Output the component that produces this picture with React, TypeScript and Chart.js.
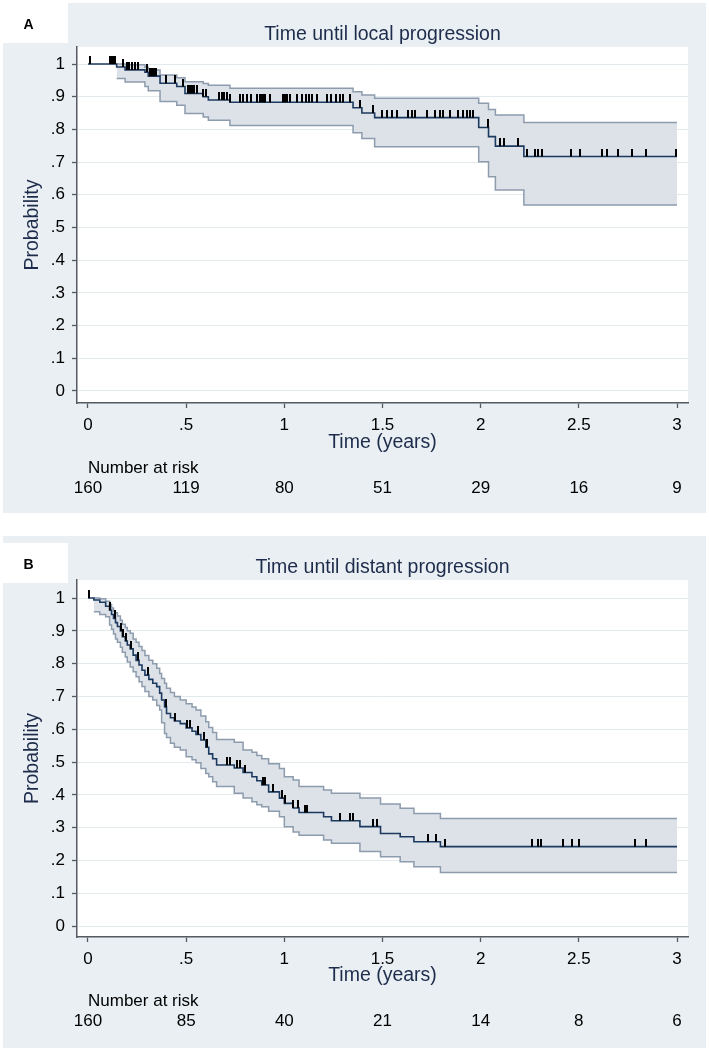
import React, { useEffect, useRef } from "react";
import { Chart, registerables } from "chart.js";

Chart.register(...registerables);

// ---------- shared axis data ----------
const xTickValues = [0, 0.5, 1, 1.5, 2, 2.5, 3];
const xTickLabels = ["0", ".5", "1", "1.5", "2", "2.5", "3"];
const yTickValues = [0, 0.1, 0.2, 0.3, 0.4, 0.5, 0.6, 0.7, 0.8, 0.9, 1];
const yTickLabels = ["0", ".1", ".2", ".3", ".4", ".5", ".6", ".7", ".8", ".9", "1"];

// ---------- panel A: local progression ----------
const aTitle = "Time until local progression";
const aTimes = [0, 0.146, 0.189, 0.29, 0.307, 0.367, 0.452, 0.494, 0.587, 0.613, 0.723, 1.35, 1.395, 1.46, 1.99, 2.04, 2.075, 2.22, 3.0];
const aSurv = [1, 0.991, 0.982, 0.975, 0.963, 0.941, 0.931, 0.91, 0.9, 0.89, 0.883, 0.866, 0.85, 0.836, 0.806, 0.778, 0.749, 0.717, 0.717];
const aBandTimes = [0.146, 0.189, 0.29, 0.307, 0.367, 0.452, 0.494, 0.587, 0.613, 0.723, 1.35, 1.395, 1.46, 1.99, 2.04, 2.075, 2.22, 3.0];
const aUpper = [1.0, 0.998, 0.99, 0.982, 0.966, 0.958, 0.946, 0.94, 0.935, 0.926, 0.915, 0.905, 0.895, 0.88, 0.861, 0.844, 0.821, 0.821];
const aLower = [0.956, 0.945, 0.931, 0.918, 0.885, 0.874, 0.849, 0.838, 0.828, 0.812, 0.79, 0.772, 0.747, 0.701, 0.655, 0.615, 0.569, 0.569];
const aCensored = [
  0.01, 0.11, 0.12, 0.13, 0.14, 0.177, 0.197, 0.21, 0.225, 0.24, 0.255, 0.3, 0.316, 0.325, 0.335, 0.345,
  0.397, 0.443, 0.482, 0.511, 0.52, 0.53, 0.54, 0.554, 0.587, 0.6, 0.669, 0.68, 0.695, 0.71, 0.723,
  0.774, 0.79, 0.81, 0.83, 0.859, 0.876, 0.885, 0.895, 0.902, 0.927, 0.995, 1.005, 1.015, 1.03,
  1.063, 1.09, 1.11, 1.125, 1.14, 1.165, 1.216, 1.24, 1.265, 1.285, 1.3, 1.335, 1.386, 1.453,
  1.496, 1.522, 1.547, 1.572, 1.632, 1.649, 1.666, 1.725, 1.768, 1.793, 1.81, 1.844, 1.886, 1.912,
  1.929, 1.946, 1.963, 2.035, 2.1, 2.12, 2.19, 2.235, 2.277, 2.294, 2.311, 2.46, 2.506, 2.617, 2.642,
  2.7, 2.77, 2.843, 2.995,
];
const aAtRisk = [160, 119, 80, 51, 29, 16, 9];

// ---------- panel B: distant progression ----------
const bTitle = "Time until distant progression";
const bTimes = [0, 0.03, 0.06, 0.09, 0.11, 0.12, 0.13, 0.14, 0.15, 0.165, 0.175, 0.19, 0.2, 0.215, 0.23, 0.245, 0.26, 0.275, 0.29, 0.31, 0.33, 0.35, 0.365, 0.375, 0.39, 0.4, 0.42, 0.44, 0.47, 0.5, 0.53, 0.55, 0.575, 0.6, 0.615, 0.635, 0.655, 0.745, 0.79, 0.835, 0.86, 0.885, 0.92, 0.975, 1.0, 1.045, 1.075, 1.2, 1.24, 1.385, 1.49, 1.59, 1.66, 1.795, 3.0];
const bSurv = [1, 0.994, 0.987, 0.975, 0.963, 0.95, 0.938, 0.925, 0.913, 0.9, 0.882, 0.869, 0.857, 0.845, 0.826, 0.81, 0.796, 0.78, 0.765, 0.752, 0.74, 0.73, 0.71, 0.689, 0.668, 0.648, 0.635, 0.625, 0.617, 0.604, 0.594, 0.584, 0.567, 0.545, 0.525, 0.51, 0.491, 0.482, 0.468, 0.455, 0.443, 0.43, 0.409, 0.39, 0.374, 0.36, 0.346, 0.333, 0.321, 0.303, 0.282, 0.272, 0.257, 0.242, 0.242];
const bBandTimes = [0.03, 0.06, 0.09, 0.11, 0.12, 0.13, 0.14, 0.15, 0.165, 0.175, 0.19, 0.2, 0.215, 0.23, 0.245, 0.26, 0.275, 0.29, 0.31, 0.33, 0.35, 0.365, 0.375, 0.39, 0.4, 0.42, 0.44, 0.47, 0.5, 0.53, 0.55, 0.575, 0.6, 0.615, 0.635, 0.655, 0.745, 0.79, 0.835, 0.86, 0.885, 0.92, 0.975, 1.0, 1.045, 1.075, 1.2, 1.24, 1.385, 1.49, 1.59, 1.66, 1.795, 3.0];
const bUpper = [1.0, 0.998, 0.99, 0.98, 0.97, 0.96, 0.955, 0.945, 0.932, 0.92, 0.91, 0.9, 0.893, 0.875, 0.865, 0.852, 0.84, 0.825, 0.81, 0.8, 0.786, 0.77, 0.755, 0.74, 0.725, 0.712, 0.7, 0.689, 0.678, 0.668, 0.659, 0.64, 0.623, 0.605, 0.59, 0.569, 0.56, 0.537, 0.53, 0.52, 0.51, 0.495, 0.48, 0.455, 0.445, 0.425, 0.415, 0.405, 0.39, 0.372, 0.359, 0.343, 0.328, 0.328];
const bLower = [0.958, 0.95, 0.943, 0.918, 0.905, 0.89, 0.875, 0.865, 0.85, 0.835, 0.82, 0.805, 0.79, 0.775, 0.76, 0.745, 0.73, 0.715, 0.7, 0.689, 0.672, 0.659, 0.62, 0.587, 0.575, 0.557, 0.545, 0.537, 0.516, 0.507, 0.498, 0.48, 0.465, 0.455, 0.44, 0.425, 0.405, 0.39, 0.379, 0.37, 0.364, 0.35, 0.333, 0.303, 0.287, 0.277, 0.262, 0.252, 0.227, 0.211, 0.196, 0.181, 0.163, 0.163];
const bCensored = [
  0.005, 0.11, 0.138, 0.167, 0.18, 0.195, 0.217, 0.256, 0.304, 0.396, 0.443, 0.503, 0.52, 0.562, 0.59,
  0.605, 0.706, 0.723, 0.757, 0.774, 0.8, 0.893, 0.902, 0.941, 0.987, 1.004, 1.046, 1.071, 1.105, 1.117,
  1.284, 1.335, 1.348, 1.453, 1.471, 1.73, 1.773, 1.819, 2.26, 2.294, 2.306, 2.421, 2.464, 2.503, 2.787, 2.843,
];
const bAtRisk = [160, 85, 40, 21, 14, 8, 6];

// ---------- styling ----------
const FONT = "'Liberation Sans', Arial, Helvetica, sans-serif";
const PANEL_BG = "#e9eff2";
const NAVY_TEXT = "#1e2c4c";
const KM_LINE = "#1c3a5f";
const BAND_LINE = "#8d9cad";
const BAND_FILL = "#dde2e9";
const GRID = "#e3eaee";
const AXIS = "#555a60";

type Panel = {
  letter: string;
  title: string;
  times: number[];
  surv: number[];
  bandTimes: number[];
  upper: number[];
  lower: number[];
  censored: number[];
  atRisk: number[];
  top: number;
  height: number;
  plotBottom: number;
  boxTop: number;
  yMin: number;
  yMax: number;
};

const panels: Panel[] = [
  { letter: "A", title: aTitle, times: aTimes, surv: aSurv, bandTimes: aBandTimes, upper: aUpper, lower: aLower, censored: aCensored, atRisk: aAtRisk, top: 3, height: 510, plotBottom: 400, boxTop: 0, yMin: -0.0367, yMax: 1.052 },
  { letter: "B", title: bTitle, times: bTimes, surv: bSurv, bandTimes: bBandTimes, upper: bUpper, lower: bLower, censored: bCensored, atRisk: bAtRisk, top: 536, height: 512, plotBottom: 401, boxTop: 7, yMin: -0.0335, yMax: 1.055 },
];

function stepValue(times: number[], vals: number[], t: number) {
  let v = vals[0];
  for (let i = 0; i < times.length; i++) if (times[i] <= t) v = vals[i];
  return v;
}

function KMPanel({ p }: { p: Panel }) {
  const ref = useRef<HTMLCanvasElement>(null);
  useEffect(() => {
    const mark = document.createElement("canvas");
    mark.width = 2;
    mark.height = 16;
    const mctx = mark.getContext("2d")!;
    mctx.fillStyle = "#000";
    mctx.fillRect(0, 0, 2, 8);

    const pts = (xs: number[], ys: number[]) => xs.map((x, i) => ({ x, y: ys[i] }));
    const censorPts = p.censored.map((t) => ({ x: t, y: stepValue(p.times, p.surv, t) }));

    const panelPlugin = {
      id: "panel" + p.letter,
      beforeDraw(chart: any) {
        const { ctx, width, height, chartArea } = chart;
        ctx.save();
        ctx.fillStyle = PANEL_BG;
        ctx.fillRect(0, 0, width, height);
        ctx.fillStyle = "#ffffff";
        ctx.fillRect(chartArea.left, chartArea.top, chartArea.right - chartArea.left, chartArea.bottom - chartArea.top);
        ctx.fillRect(0, p.boxTop, 65, 40);
        ctx.fillStyle = "#000";
        ctx.font = `bold 14px ${FONT}`;
        ctx.textAlign = "center";
        ctx.textBaseline = "alphabetic";
        ctx.fillText(p.letter, 25.5, p.boxTop + 25.8);
        ctx.fillStyle = NAVY_TEXT;
        ctx.font = `19.5px ${FONT}`;
        ctx.fillText(p.title, (chartArea.left + chartArea.right) / 2, 36.8);
        ctx.restore();
      },
      afterDraw(chart: any) {
        const { ctx, chartArea } = chart;
        const xs = chart.scales.x;
        ctx.save();
        ctx.fillStyle = NAVY_TEXT;
        ctx.font = `19.5px ${FONT}`;
        ctx.textAlign = "center";
        ctx.textBaseline = "alphabetic";
        ctx.fillText("Time (years)", (chartArea.left + chartArea.right) / 2, 445);
        ctx.save();
        ctx.translate(34.5, (chartArea.top + chartArea.bottom) / 2);
        ctx.rotate(-Math.PI / 2);
        ctx.fillText("Probability", 0, 0);
        ctx.restore();
        ctx.fillStyle = "#000";
        ctx.font = `17px ${FONT}`;
        ctx.textAlign = "left";
        ctx.fillText("Number at risk", xs.getPixelForValue(xTickValues[0]), 470);
        ctx.textAlign = "center";
        p.atRisk.forEach((n, i) => {
          ctx.fillText(String(n), xs.getPixelForValue(xTickValues[i]), 490);
        });
        ctx.restore();
      },
    };

    const chart = new Chart(ref.current!, {
      type: "line",
      data: {
        datasets: [
          {
            label: "Censored",
            data: censorPts,
            showLine: false,
            pointStyle: mark as any,
            pointRadius: 2,
            pointHoverRadius: 2,
            borderColor: "#000",
            backgroundColor: "#000",
          },
          {
            label: "Survival",
            data: pts(p.times, p.surv),
            stepped: "before",
            borderColor: KM_LINE,
            borderWidth: 1.6,
            pointRadius: 0,
            fill: false,
          },
          {
            label: "Upper 95% CI",
            data: pts(p.bandTimes, p.upper),
            stepped: "before",
            borderColor: BAND_LINE,
            borderWidth: 1.5,
            pointRadius: 0,
            fill: false,
          },
          {
            label: "Lower 95% CI",
            data: pts(p.bandTimes, p.lower),
            stepped: "before",
            borderColor: BAND_LINE,
            borderWidth: 1.5,
            pointRadius: 0,
            fill: "-1",
            backgroundColor: BAND_FILL,
          },
        ] as any,
      },
      options: {
        animation: false,
        responsive: false,
        maintainAspectRatio: false,
        events: [],
        layout: { padding: { left: 0, right: 18, top: 44, bottom: 0 } },
        plugins: {
          legend: { display: false },
          tooltip: { enabled: false },
          title: { display: false },
        },
        scales: {
          x: {
            type: "linear",
            min: -0.056,
            max: 3.056,
            afterBuildTicks: (s: any) => {
              s.ticks = xTickValues.map((v) => ({ value: v }));
            },
            afterFit: (s: any) => {
              s.height = p.height - p.plotBottom;
            },
            grid: { drawOnChartArea: false, drawTicks: true, tickLength: 5, tickColor: AXIS, tickWidth: 1.3 },
            border: { display: true, color: AXIS, width: 1.5 },
            ticks: {
              autoSkip: false,
              maxRotation: 0,
              minRotation: 0,
              padding: 7,
              color: "#000",
              font: { family: FONT, size: 17 },
              callback: (_v: any, i: number) => xTickLabels[i],
            },
          },
          y: {
            type: "linear",
            min: p.yMin,
            max: p.yMax,
            afterBuildTicks: (s: any) => {
              s.ticks = yTickValues.map((v) => ({ value: v }));
            },
            afterFit: (s: any) => {
              s.width = 74;
            },
            grid: { drawOnChartArea: true, color: GRID, lineWidth: 1, drawTicks: true, tickLength: 5, tickColor: AXIS, tickWidth: 1.3 },
            border: { display: true, color: AXIS, width: 1.5 },
            ticks: {
              autoSkip: false,
              padding: 7,
              color: "#000",
              font: { family: FONT, size: 17 },
              callback: (_v: any, i: number) => yTickLabels[i],
            },
          },
        },
      } as any,
      plugins: [panelPlugin],
    });
    return () => chart.destroy();
  }, [p]);

  return (
    <div style={{ position: "absolute", left: 3, top: p.top, width: 703, height: p.height }}>
      <canvas ref={ref} width={703} height={p.height} style={{ display: "block", width: 703, height: p.height }} />
    </div>
  );
}

export default function App() {
  return (
    <div style={{ position: "absolute", left: 0, top: 0, width: 709, height: 1051, background: "#ffffff" }}>
      {panels.map((p) => (
        <KMPanel key={p.letter} p={p} />
      ))}
    </div>
  );
}
